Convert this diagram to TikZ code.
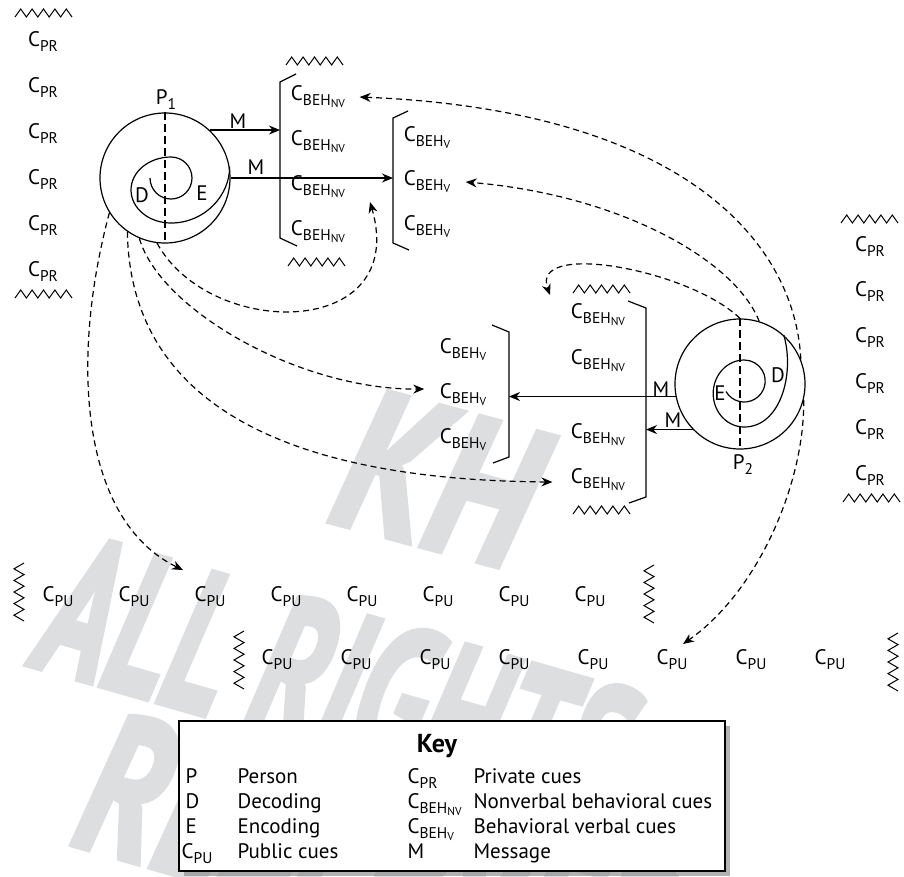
\documentclass[tikz,border=0pt]{standalone}
\usepackage{fontspec}
\setmainfont{PT Sans}
\newfontfamily\wmfont{PT Sans Bold Italic}[FakeBold=3]
\usetikzlibrary{arrows.meta,calc,shadows}
\newcommand\cuesub[1]{\raisebox{-5pt}{\fontsize{15.5}{15.5}\selectfont #1}}
\newcommand\cuesubb[1]{\raisebox{-2pt}{\fontsize{11.5}{11.5}\selectfont #1}}
\def\cpr{C\cuesub{PR}}
\def\cpu{C\cuesub{PU}}
\def\cnv{C\cuesub{BEH\cuesubb{NV}}}
\def\cv{C\cuesub{BEH\cuesubb{V}}}
\definecolor{wmgray}{RGB}{221,222,223}

\begin{document}
\begin{tikzpicture}[x=1pt,y=-1pt,line width=1.2pt,
	cue/.style={inner sep=0pt,font=\fontsize{21}{25}\selectfont},
	keytxt/.style={inner sep=0pt,anchor=base west,font=\fontsize{21}{25}\selectfont},
	person/.style={draw,circle,minimum size=130pt,inner sep=0pt},
	vdash/.style={dash pattern=on 8pt off 4pt},
	marr/.style={-{Stealth[length=11pt,width=9pt]}},
	darr/.style={dash pattern=on 6pt off 4pt,-{Stealth[length=11pt,width=9pt]}},
	wm/.style={text=wmgray,inner sep=0pt,font=\fontsize{200}{200}\wmfont},
	zigh/.pic={\draw[line width=1pt] (0,0) -- ++(5.7,-8) -- ++(5.7,8) -- ++(5.7,-8) -- ++(5.7,8) -- ++(5.7,-8) -- ++(5.7,8) -- ++(5.7,-8) -- ++(5.7,8) -- ++(5.7,-8) -- ++(5.7,8);},
	zigv/.pic={\draw[line width=1pt] (0,0) -- ++(-10,5.8) -- ++(10,5.8) -- ++(-10,5.8) -- ++(10,5.8) -- ++(-10,5.8) -- ++(10,5.8) -- ++(-10,5.8) -- ++(10,5.8) -- ++(-10,5.8) -- ++(10,5.8);}]
		\path[use as bounding box,fill=white] (0,0) rectangle (904,876);
		% watermark
		\node[wm,rotate=-15,xscale=0.8] (kh) at (438,478) {KH};
		\node[wm,rotate=-16,xscale=0.6] (allr) at (335,680) {ALL RIGHTS};
		\node[wm,rotate=-16,xscale=0.7] (resv) at (380,860) {RESERVED};
		% persons
		\node[person] (p1) at (165,178) {};
		\node[person] (p2) at (740,384) {};
		\draw[vdash] (p1.north) -- (p1.south);
		\draw[vdash] (p2.north) -- (p2.south);
		\draw (150,178) arc[start angle=180,end angle=-90,radius=21] arc[start angle=-90,end angle=-270,x radius=40,y radius=33] .. controls (205,223) and (230,195) .. (p1.10);
		\draw (726,391.5) arc[start angle=150,end angle=-90,radius=21] arc[start angle=-90,end angle=-270,x radius=31,y radius=33.5] .. controls (780,427) and (795,375) .. (p2.48);
		\node[cue] (pl1) at (166,100) {P\cuesub{1}};
		\node[cue] (pl2) at (743,465) {P\cuesub{2}};
		\node[cue] (d1) at (142,195) {D};
		\node[cue] (e1) at (202,193) {E};
		\node[cue] (e2) at (720,393) {E};
		\node[cue] (d2) at (778,375) {D};
		% private cues
		\pic at (15,17) {zigh};
		\node[cue] (lpr1) at (43,42) {\cpr};
		\node[cue] (lpr2) at (43,88) {\cpr};
		\node[cue] (lpr3) at (43,134) {\cpr};
		\node[cue] (lpr4) at (43,180) {\cpr};
		\node[cue] (lpr5) at (43,226) {\cpr};
		\node[cue] (lpr6) at (43,272) {\cpr};
		\pic at (15,298) {zigh};
		\pic at (841,223) {zigh};
		\node[cue] (rpr1) at (870,247) {\cpr};
		\node[cue] (rpr2) at (870,292) {\cpr};
		\node[cue] (rpr3) at (870,338) {\cpr};
		\node[cue] (rpr4) at (870,384) {\cpr};
		\node[cue] (rpr5) at (870,430) {\cpr};
		\node[cue] (rpr6) at (870,476) {\cpr};
		\pic at (843,502) {zigh};
		% behavioral cues of P1
		\pic at (286,65) {zigh};
		\node[cue] (anv1) at (318,97) {\cnv};
		\node[cue] (anv2) at (318,142) {\cnv};
		\node[cue] (anv3) at (318,187) {\cnv};
		\node[cue] (anv4) at (318,232) {\cnv};
		\pic at (288,266) {zigh};
		\coordinate (anvt) at (280,82);
		\draw (296,74) -- (anvt) -- (280,238) -- (297,246);
		\node[cue] (av1) at (427,138) {\cv};
		\node[cue] (av2) at (427,182) {\cv};
		\node[cue] (av3) at (427,227) {\cv};
		\coordinate (avt) at (393,118);
		\draw (408,111) -- (avt) -- (393,243) -- (409,250);
		% behavioral cues of P2
		\node[cue] (bv1) at (463,350) {\cv};
		\node[cue] (bv2) at (463,395) {\cv};
		\node[cue] (bv3) at (463,440) {\cv};
		\coordinate (bvt) at (509,332);
		\draw (492,325) -- (bvt) -- (509,457) -- (493,463);
		\pic at (573,293) {zigh};
		\node[cue] (bnv1) at (598,315) {\cnv};
		\node[cue] (bnv2) at (598,361) {\cnv};
		\node[cue] (bnv3) at (598,435) {\cnv};
		\node[cue] (bnv4) at (598,480) {\cnv};
		\pic at (573,514) {zigh};
		\coordinate (bnvt) at (646,308);
		\draw (628,301) -- (bnvt) -- (646,497) -- (629,503);
		% messages
		\draw[marr] (p1.47) -- (p1.47 -| anvt);
		\draw[marr] (p1.east) -- (p1.east -| avt);
		\draw[marr] (p2.191) -- (p2.191 -| bvt);
		\draw[marr] (p2.224) -- (p2.224 -| bnvt);
		\node[cue] (m1) at (238,121) {M};
		\node[cue] (m2) at (256,167) {M};
		\node[cue] (m3) at (661,389) {M};
		\node[cue] (m4) at (673,420) {M};
		% public cues
		\pic at (24,563) {zigv};
		\node[cue] (pua1) at (58,597) {\cpu};
		\node[cue] (pua2) at (134,597) {\cpu};
		\node[cue] (pua3) at (210,597) {\cpu};
		\node[cue] (pua4) at (286,597) {\cpu};
		\node[cue] (pua5) at (362,597) {\cpu};
		\node[cue] (pua6) at (438,597) {\cpu};
		\node[cue] (pua7) at (514,597) {\cpu};
		\node[cue] (pua8) at (590,597) {\cpu};
		\pic at (654,565) {zigv};
		\pic at (244,631) {zigv};
		\node[cue] (pub1) at (277,660) {\cpu};
		\node[cue] (pub2) at (356,660) {\cpu};
		\node[cue] (pub3) at (435,660) {\cpu};
		\node[cue] (pub4) at (514,660) {\cpu};
		\node[cue] (pub5) at (593,660) {\cpu};
		\node[cue] (pub6) at (672,660) {\cpu};
		\node[cue] (pub7) at (751,660) {\cpu};
		\node[cue] (pub8) at (830,660) {\cpu};
		\pic at (898,633) {zigv};
		% perception
		\draw[darr] (p2.22) .. controls (795,240) and (680,110) .. ($(anv1.east)+(14,0)$);
		\draw[darr] (p2.73) .. controls (735,260) and (620,195) .. ($(av2.east)+(15,0)$);
		\draw[darr] (p2.north) .. controls (690,270) and (530,240) .. ($(bnv1)+(-48,-20)$);
		\draw[darr] (p2.-14) .. controls (805,480) and (760,590) .. ($(pub6)+(11,-16)$);
		\draw[darr] (p1.212) .. controls (70,360) and (80,520) .. ($(pua3)+(-27,-27)$);
		\draw[darr] (p1.235) .. controls (130,400) and (280,480) .. ($(bnv4.west)+(-18,2)$);
		\draw[darr] (p1.247) .. controls (160,310) and (300,390) .. ($(bv2.west)+(-15,-6)$);
		\draw[darr] (p1.263) .. controls (210,340) and (410,340) .. ($(anv3)+(52,15)$);
		% key
		\node[draw,fill=white,line width=2pt,minimum width=546pt,minimum height=150pt,drop shadow={shadow xshift=5pt,shadow yshift=-5pt,opacity=0.6}] (keybox) at (452,796) {};
		\node[inner sep=0pt,anchor=base,font=\fontsize{26}{30}\selectfont\bfseries] (keyt) at (437,752) {Key};
		\node[keytxt] (k1) at (185,783) {P};
		\node[keytxt] (k2) at (185,808) {D};
		\node[keytxt] (k3) at (185,833) {E};
		\node[keytxt] (k4) at (181,858) {\cpu};
		\node[keytxt] (k5) at (237,783) {Person};
		\node[keytxt] (k6) at (237,808) {Decoding};
		\node[keytxt] (k7) at (237,833) {Encoding};
		\node[keytxt] (k8) at (237,858) {Public cues};
		\node[keytxt] (k9) at (407,783) {\cpr};
		\node[keytxt] (k10) at (407,808) {\cnv};
		\node[keytxt] (k11) at (407,833) {\cv};
		\node[keytxt] (k12) at (407,858) {M};
		\node[keytxt] (k13) at (473,783) {Private cues};
		\node[keytxt] (k14) at (473,808) {Nonverbal behavioral cues};
		\node[keytxt] (k15) at (473,833) {Behavioral verbal cues};
		\node[keytxt] (k16) at (473,858) {Message};
\end{tikzpicture}
\end{document}
